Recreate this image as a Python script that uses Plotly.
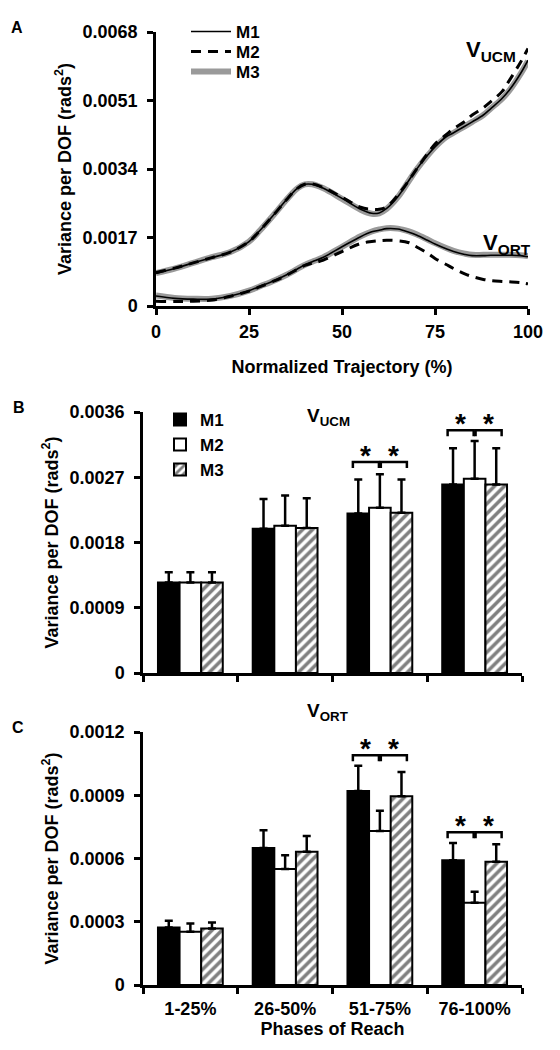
import plotly.graph_objects as go

# ---------------- Panel A data ----------------
traj_x = [0, 5, 10, 15, 20, 25, 28, 32, 35, 38, 40, 42, 45, 50, 55, 58, 60, 62, 65,
          68, 70, 73, 75, 78, 80, 83, 85, 88, 90, 93, 95, 98, 100]

ucm_m1 = [0.00081, 0.00093, 0.00107, 0.00120, 0.00134, 0.00160, 0.00188, 0.00230, 0.00263,
          0.00292, 0.00302, 0.00302, 0.00292, 0.00267, 0.00240, 0.00230, 0.00231, 0.00242,
          0.00271, 0.00312, 0.00339, 0.00374, 0.00395, 0.00420, 0.00430, 0.00446, 0.00457,
          0.00474, 0.00490, 0.00515, 0.00536, 0.00577, 0.00610]
ucm_m2 = [0.00083, 0.00094, 0.00107, 0.00120, 0.00134, 0.00160, 0.00188, 0.00230, 0.00263,
          0.00292, 0.00302, 0.00303, 0.00294, 0.00270, 0.00245, 0.00240, 0.00240, 0.00246,
          0.00275, 0.00312, 0.00339, 0.00378, 0.00402, 0.00425, 0.00440, 0.00458, 0.00474,
          0.00492, 0.00507, 0.00532, 0.00560, 0.00605, 0.00639]
ucm_m3 = [0.00082, 0.00093, 0.00107, 0.00121, 0.00134, 0.00160, 0.00188, 0.00230, 0.00263,
          0.00292, 0.00302, 0.00302, 0.00292, 0.00266, 0.00239, 0.00229, 0.00230, 0.00241,
          0.00270, 0.00311, 0.00338, 0.00373, 0.00394, 0.00419, 0.00430, 0.00446, 0.00457,
          0.00474, 0.00490, 0.00514, 0.00535, 0.00576, 0.00608]

ort_m1 = [0.00025, 0.00019, 0.00017, 0.00017, 0.00025, 0.00038, 0.00049, 0.00064, 0.00077,
          0.00092, 0.00102, 0.00110, 0.00121, 0.00147, 0.00172, 0.00184, 0.00188, 0.00192,
          0.00191, 0.00183, 0.00176, 0.00163, 0.00154, 0.00142, 0.00135, 0.00128, 0.00125,
          0.00125, 0.00126, 0.00126, 0.00126, 0.00125, 0.00122]
ort_m2 = [0.00012, 0.00011, 0.00012, 0.00015, 0.00024, 0.00037, 0.00048, 0.00063, 0.00076,
          0.00091, 0.00101, 0.00106, 0.00114, 0.00135, 0.00155, 0.00160, 0.00162, 0.00163,
          0.00162, 0.00157, 0.00147, 0.00131, 0.00118, 0.00103, 0.00093, 0.00080, 0.00073,
          0.00066, 0.00063, 0.00061, 0.00060, 0.00058, 0.00055]
ort_m3 = [0.00026, 0.00020, 0.00018, 0.00018, 0.00025, 0.00038, 0.00049, 0.00064, 0.00077,
          0.00092, 0.00102, 0.00110, 0.00121, 0.00147, 0.00173, 0.00185, 0.00190, 0.00193,
          0.00192, 0.00185, 0.00178, 0.00165, 0.00156, 0.00144, 0.00137, 0.00130, 0.00127,
          0.00127, 0.00127, 0.00127, 0.00127, 0.00126, 0.00124]

a_xticks = [0, 25, 50, 75, 100]
a_yticks = [0, 0.0017, 0.0034, 0.0051, 0.0068]
a_yticktext = ["0", "0.0017", "0.0034", "0.0051", "0.0068"]

# ---------------- Panels B / C data ----------------
phases = ["1-25%", "26-50%", "51-75%", "76-100%"]

ucm_bar_m1 = [0.00125, 0.00199, 0.00220, 0.00260]
ucm_bar_m2 = [0.00125, 0.00203, 0.00228, 0.00268]
ucm_bar_m3 = [0.00125, 0.00200, 0.00221, 0.00260]
ucm_sd_m1 = [0.00014, 0.00041, 0.00047, 0.00050]
ucm_sd_m2 = [0.00014, 0.00042, 0.00046, 0.00052]
ucm_sd_m3 = [0.00014, 0.00041, 0.00046, 0.00050]

ort_bar_m1 = [0.000273, 0.000650, 0.000920, 0.000592]
ort_bar_m2 = [0.000253, 0.000550, 0.000730, 0.000390]
ort_bar_m3 = [0.000268, 0.000632, 0.000895, 0.000584]
ort_sd_m1 = [0.000032, 0.000084, 0.000120, 0.000082]
ort_sd_m2 = [0.000039, 0.000066, 0.000096, 0.000052]
ort_sd_m3 = [0.000029, 0.000075, 0.000115, 0.000084]

b_yticks = [0, 0.0009, 0.0018, 0.0027, 0.0036]
b_yticktext = ["0", "0.0009", "0.0018", "0.0027", "0.0036"]
c_yticks = [0, 0.0003, 0.0006, 0.0009, 0.0012]
c_yticktext = ["0", "0.0003", "0.0006", "0.0009", "0.0012"]

# significance brackets: (phase index, bracket level)
ucm_sig = [(2, 0.00291), (3, 0.00335)]
ort_sig = [(2, 0.00109), (3, 0.000725)]

# ---------------- styling ----------------
W, H = 560, 1050
FONT = "Liberation Sans, Arial, sans-serif"
BAR_GAP = 0.316
DOM_X_A = [156 / W, 528 / W]
DOM_Y_A = [1 - 306 / H, 1 - 32 / H]
DOM_X_BC = [143 / W, 522 / W]
DOM_Y_B = [1 - 673 / H, 1 - 412 / H]
DOM_Y_C = [1 - 985 / H, 1 - 732 / H]

# legend placement (pixel x of legend box, pixel y of row centre) per entry
line_legends = {"M1": ("legend", 186, 32), "M2": ("legend3", 186, 52), "M3": ("legend4", 186, 72)}
bar_legends = {"M1": ("legend2", 160, 420), "M2": ("legend5", 160, 445), "M3": ("legend6", 160, 470)}

fig = go.Figure()

# Panel A lines (gray M3 underneath)
line_specs = [
    ("M3", ucm_m3, ort_m3, dict(color="#9a9a9a", width=6)),
    ("M1", ucm_m1, ort_m1, dict(color="black", width=1.6)),
    ("M2", ucm_m2, ort_m2, dict(color="black", width=3, dash="10px,7px")),
]
for name, ucm, ort, ln in line_specs:
    for ys, show in ((ucm, True), (ort, False)):
        fig.add_trace(go.Scatter(
            x=traj_x, y=ys, mode="lines", name=name, line=dict(shape="spline", smoothing=1.0, **ln),
            legendgroup=name, showlegend=show, legend=line_legends[name][0],
            xaxis="x", yaxis="y", hoverinfo="skip"))

# Bars
bar_specs = [
    ("M1", dict(color="black", line=dict(color="black", width=2))),
    ("M2", dict(color="white", line=dict(color="black", width=2))),
    ("M3", dict(color="white", line=dict(color="black", width=2),
                pattern=dict(shape="/", fgcolor="black", bgcolor="white", size=7, solidity=0.5))),
]
ucm_vals = [ucm_bar_m1, ucm_bar_m2, ucm_bar_m3]
ucm_sds = [ucm_sd_m1, ucm_sd_m2, ucm_sd_m3]
ort_vals = [ort_bar_m1, ort_bar_m2, ort_bar_m3]
ort_sds = [ort_sd_m1, ort_sd_m2, ort_sd_m3]

for i, (name, mk) in enumerate(bar_specs):
    err = dict(type="data", symmetric=False, array=ucm_sds[i], arrayminus=[0] * 4,
               color="black", thickness=2.5, width=4)
    fig.add_trace(go.Bar(x=phases, y=ucm_vals[i], name=name, marker=mk, error_y=err,
                         offsetgroup=name, legend=bar_legends[name][0], showlegend=True,
                         xaxis="x2", yaxis="y2", hoverinfo="skip"))
for i, (name, mk) in enumerate(bar_specs):
    err = dict(type="data", symmetric=False, array=ort_sds[i], arrayminus=[0] * 4,
               color="black", thickness=2.5, width=4)
    fig.add_trace(go.Bar(x=phases, y=ort_vals[i], name=name, marker=mk, error_y=err,
                         offsetgroup=name, showlegend=False,
                         xaxis="x3", yaxis="y3", hoverinfo="skip"))

# Significance brackets
bw = (1 - BAR_GAP) / 3
shapes, annos = [], []


def add_brackets(sig, xref, yref, yrange, ydom):
    tick = 6 * (yrange / ((ydom[1] - ydom[0]) * H))
    for idx, lvl in sig:
        halves = [(idx - bw - bw / 4, idx - 0.01), (idx + 0.01, idx + bw + bw / 4)]
        for x0, x1 in halves:
            shapes.append(dict(type="path", xref=xref, yref=yref,
                               path=f"M {x0},{lvl - tick} L {x0},{lvl} L {x1},{lvl} L {x1},{lvl - tick}",
                               line=dict(color="black", width=2.5)))
            annos.append(dict(x=(x0 + x1) / 2, y=lvl, xref=xref, yref=yref, text="<b>*</b>",
                              showarrow=False, yanchor="bottom", yshift=-11,
                              font=dict(size=28, family=FONT, color="black")))


add_brackets(ucm_sig, "x2", "y2", 0.0036, DOM_Y_B)
add_brackets(ort_sig, "x3", "y3", 0.0012, DOM_Y_C)

# Panel letters and labels
for letter, px, py in (("A", 17, 28), ("B", 19, 407), ("C", 18, 727)):
    annos.append(dict(x=px / W, y=1 - py / H, xref="paper", yref="paper", text=f"<b>{letter}</b>",
                      showarrow=False, xanchor="center", yanchor="middle",
                      font=dict(size=16, family=FONT, color="black")))

for txt, px, py, size in (("V<sub>UCM</sub>", 464, 51, 22), ("V<sub>ORT</sub>", 481, 244, 22),
                          ("V<sub>UCM</sub>", 305, 417, 19), ("V<sub>ORT</sub>", 305, 712, 19)):
    annos.append(dict(x=px / W, y=1 - py / H, xref="paper", yref="paper", text=f"<b>{txt}</b>",
                      showarrow=False, xanchor="left", yanchor="middle",
                      font=dict(size=size, family=FONT, color="black")))

tickfont = dict(size=18, family=FONT, color="black", weight="bold")
titlefont = dict(size=18, family=FONT, color="black", weight="bold")
axis_common = dict(showline=True, linecolor="black", linewidth=2.5, ticks="outside", ticklen=6,
                   tickwidth=2.5, tickcolor="black", showgrid=False, zeroline=False,
                   tickfont=tickfont, fixedrange=True, automargin=False)
ytitle = "Variance per DOF (rads<sup>2</sup>)"

legend_font = dict(size=17, family=FONT, color="black", weight="bold")
legends = {}
for name, (key, px, py) in list(line_legends.items()) + list(bar_legends.items()):
    legends[key] = dict(x=px / W, y=1 - py / H, xanchor="left", yanchor="middle",
                        bgcolor="rgba(0,0,0,0)", font=legend_font, itemclick=False,
                        itemdoubleclick=False, itemwidth=40 if key in ("legend", "legend3", "legend4") else 30)

fig.update_layout(
    width=W, height=H, margin=dict(l=0, r=0, t=0, b=0, autoexpand=False),
    paper_bgcolor="white", plot_bgcolor="white",
    barmode="group", bargap=BAR_GAP, bargroupgap=0,
    font=dict(family=FONT, color="black"),
    xaxis=dict(domain=DOM_X_A, anchor="y", range=[0, 100], tickvals=a_xticks, ticklabelstandoff=2,
               title=dict(text="Normalized Trajectory (%)", font=titlefont, standoff=20), **axis_common),
    yaxis=dict(domain=DOM_Y_A, anchor="x", range=[0, 0.0068], tickvals=a_yticks, ticktext=a_yticktext,
               ticklabelstandoff=6, title=dict(text=ytitle, font=titlefont, standoff=7), **axis_common),
    xaxis2=dict(domain=DOM_X_BC, anchor="y2", type="category", tickson="boundaries",
                showticklabels=False, **axis_common),
    yaxis2=dict(domain=DOM_Y_B, anchor="x2", range=[0, 0.0036], tickvals=b_yticks, ticktext=b_yticktext,
                ticklabelstandoff=6, title=dict(text=ytitle, font=titlefont, standoff=7), **axis_common),
    xaxis3=dict(domain=DOM_X_BC, anchor="y3", type="category", tickson="boundaries", ticklabelstandoff=6,
                title=dict(text="Phases of Reach", font=titlefont, standoff=5), **axis_common),
    yaxis3=dict(domain=DOM_Y_C, anchor="x3", range=[0, 0.0012], tickvals=c_yticks, ticktext=c_yticktext,
                ticklabelstandoff=6, title=dict(text=ytitle, font=titlefont, standoff=7), **axis_common),
    shapes=shapes, annotations=annos,
    showlegend=True,
    **legends,
)

fig.write_html("out.html", config={"displayModeBar": False},
               post_script="document.body.style.margin='0';document.body.style.overflow='hidden';")
